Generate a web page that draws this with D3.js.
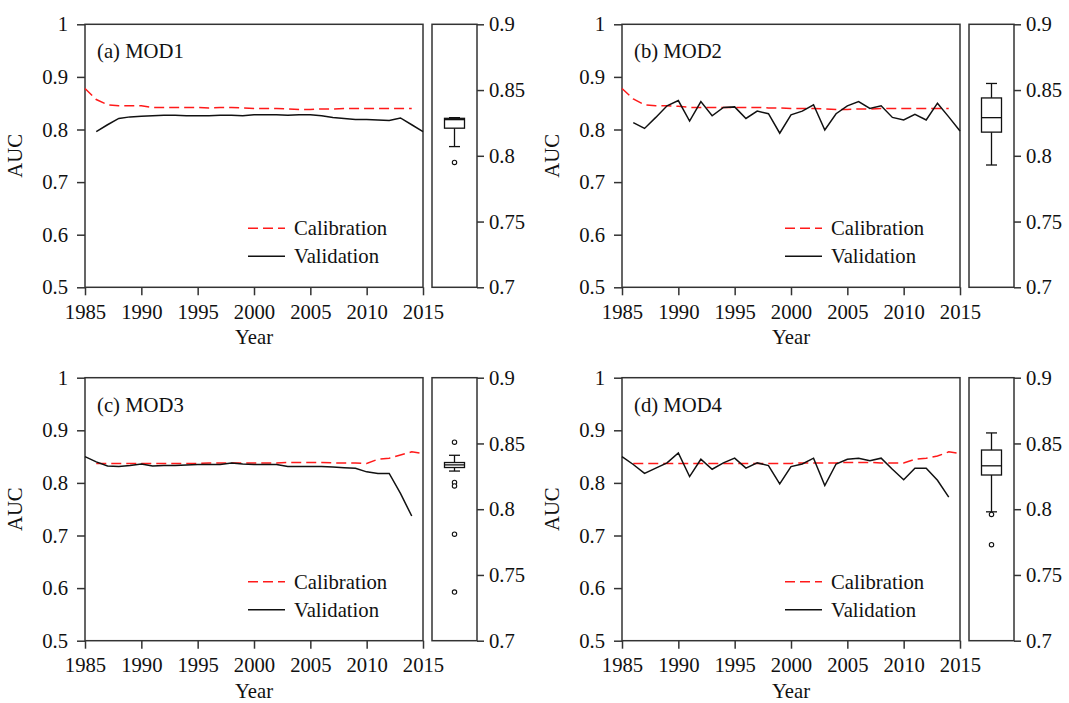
<!DOCTYPE html>
<html>
<head>
<meta charset="UTF-8">
<title>AUC of calibration and validation, MOD1-MOD4</title>
<style>
  body { margin: 0; background: #fff; }
  svg text { font-family: "Liberation Serif", "Times New Roman", serif; font-size: 20.7px; fill: #111; }
</style>
</head>
<body>
<svg width="1069" height="703"></svg>
<script src="https://d3js.org/d3.v7.min.js"></script>
<script>

// years on the x axis (one value per year, null = no point)
var years = [1985,1986,1987,1988,1989,1990,1991,1992,1993,1994,1995,1996,1997,1998,1999,2000,
             2001,2002,2003,2004,2005,2006,2007,2008,2009,2010,2011,2012,2013,2014,2015];
var yearTicks = [1985,1990,1995,2000,2005,2010,2015];
var aucTicks = [0.5,0.6,0.7,0.8,0.9,1];
var boxTicks = [0.7,0.75,0.8,0.85,0.9];

// (a) MOD1
var calA = [0.878,0.857,0.847,0.845,0.845,0.845,0.842,0.842,0.842,0.842,0.842,0.841,0.842,0.842,0.841,0.840,
            0.840,0.840,0.839,0.838,0.838,0.839,0.839,0.840,0.840,0.840,0.840,0.840,0.840,0.840,null];
var valA = [null,0.796,0.809,0.821,0.824,0.825,0.826,0.827,0.827,0.826,0.826,0.826,0.827,0.827,0.826,0.828,
            0.828,0.828,0.827,0.828,0.828,0.826,0.823,0.821,0.819,0.819,0.818,0.817,0.822,0.809,0.796];
// (b) MOD2
var calB = [0.878,0.858,0.847,0.845,0.845,0.844,0.842,0.842,0.842,0.842,0.842,0.842,0.842,0.841,0.841,0.840,
            0.840,0.840,0.839,0.838,0.838,0.839,0.839,0.840,0.840,0.840,0.840,0.840,0.840,0.840,null];
var valB = [null,0.813,0.802,0.823,0.845,0.855,0.816,0.853,0.826,0.842,0.843,0.821,0.835,0.830,0.793,0.828,
            0.835,0.847,0.799,0.830,0.845,0.853,0.840,0.845,0.823,0.818,0.829,0.818,0.850,0.824,0.797];
// (c) MOD3
var calC = [null,0.837,0.837,0.837,0.837,0.837,0.837,0.837,0.837,0.837,0.837,0.838,0.838,0.838,0.838,0.838,
            0.838,0.838,0.839,0.839,0.839,0.839,0.838,0.838,0.838,0.837,0.845,0.847,0.853,0.859,0.856];
var valC = [0.850,0.840,0.832,0.831,0.833,0.836,0.832,0.833,0.833,0.834,0.835,0.835,0.835,0.838,0.836,0.835,
            0.835,0.835,0.831,0.831,0.831,0.831,0.830,0.829,0.828,0.821,0.818,0.818,0.780,0.737,null];
// (d) MOD4
var calD = [null,0.837,0.837,0.837,0.837,0.837,0.837,0.837,0.837,0.837,0.837,0.837,0.837,0.837,0.837,0.837,
            0.838,0.838,0.838,0.838,0.839,0.839,0.839,0.838,0.838,0.838,0.845,0.847,0.851,0.859,0.856];
var valD = [0.850,0.835,0.818,0.828,0.838,0.857,0.812,0.845,0.826,0.838,0.847,0.828,0.838,0.833,0.798,0.831,
            0.836,0.847,0.795,0.836,0.845,0.847,0.842,0.847,0.826,0.806,0.828,0.828,0.805,0.773,null];

// box plots of validation AUC: [lower whisker, q1, median, q3, upper whisker]
var boxA = [0.807,0.821,0.8275,0.8285,0.829];
var outA = [0.795];
var boxB = [0.793,0.818,0.829,0.844,0.855];
var outB = [];
var boxC = [0.829,0.8317,0.8337,0.8355,0.841];
var outC = [0.851,0.8203,0.8177,0.781,0.737];
var boxD = [0.798,0.826,0.833,0.845,0.858];
var outD = [0.796,0.773];

var config = {
  "colX": [85, 622],
  "rowY": [24.3, 377.7],
  "plotW": 338,
  "plotH": 263,
  "boxGap": 9,
  "boxW": 45,
  "axisColor": "#333"
};

var panels = [
  {"title": "(a) MOD1", "cal": calA, "val": valA, "box": boxA, "out": outA, "col": 0, "row": 0},
  {"title": "(b) MOD2", "cal": calB, "val": valB, "box": boxB, "out": outB, "col": 1, "row": 0},
  {"title": "(c) MOD3", "cal": calC, "val": valC, "box": boxC, "out": outC, "col": 0, "row": 1},
  {"title": "(d) MOD4", "cal": calD, "val": valD, "box": boxD, "out": outD, "col": 1, "row": 1}
];

var svg = d3.select("svg");

function styleAxis(sel) {
  sel.attr("font-size", null).attr("font-family", null);
  sel.select(".domain").remove();
  sel.selectAll(".tick line").attr("stroke", config.axisColor).attr("stroke-width", 1.5);
  sel.selectAll(".tick text").attr("fill", "#111");
}

function drawPanel(p) {
  var W = config.plotW, H = config.plotH;
  var g = svg.append("g")
    .attr("transform", "translate(" + config.colX[p.col] + "," + config.rowY[p.row] + ")");

  var x = d3.scaleLinear().domain([1985, 2015]).range([0, W]);
  var y = d3.scaleLinear().domain([0.5, 1]).range([H, 0]);

  g.append("g")
    .call(d3.axisLeft(y).tickValues(aucTicks).tickSize(8).tickPadding(9).tickFormat(function(d){ return d; }))
    .call(styleAxis);
  g.append("g")
    .attr("transform", "translate(0," + H + ")")
    .call(d3.axisBottom(x).tickValues(yearTicks).tickSize(8).tickPadding(9).tickFormat(function(d){ return d; }))
    .call(styleAxis);

  g.append("rect")
    .attr("width", W).attr("height", H)
    .attr("fill", "none").attr("stroke", config.axisColor).attr("stroke-width", 1.5);

  var line = d3.line()
    .defined(function(d){ return d[1] != null; })
    .x(function(d){ return x(d[0]); })
    .y(function(d){ return y(d[1]); });

  g.append("path")
    .datum(years.map(function(yr, i){ return [yr, p.cal[i]]; }))
    .attr("d", line)
    .attr("fill", "none").attr("stroke", "#ff1a1a").attr("stroke-width", 1.5)
    .attr("stroke-dasharray", "10,5");
  g.append("path")
    .datum(years.map(function(yr, i){ return [yr, p.val[i]]; }))
    .attr("d", line)
    .attr("fill", "none").attr("stroke", "#111").attr("stroke-width", 1.5);

  // panel title
  g.append("text").attr("x", 12).attr("y", 34).text(p.title);

  // legend
  var leg = g.append("g").attr("transform", "translate(163,204)");
  leg.append("line").attr("x1", 0).attr("x2", 37).attr("y1", 0).attr("y2", 0)
    .attr("stroke", "#ff1a1a").attr("stroke-width", 1.5).attr("stroke-dasharray", "10,5");
  leg.append("text").attr("x", 46).attr("y", 7).text("Calibration");
  leg.append("line").attr("x1", 0).attr("x2", 37).attr("y1", 28).attr("y2", 28)
    .attr("stroke", "#111").attr("stroke-width", 1.5);
  leg.append("text").attr("x", 46).attr("y", 35).text("Validation");

  // axis titles
  g.append("text")
    .attr("transform", "translate(-63," + (H / 2) + ") rotate(-90)")
    .attr("text-anchor", "middle").text("AUC");
  g.append("text")
    .attr("x", W / 2).attr("y", H + 57)
    .attr("text-anchor", "middle").text("Year");

  // box plot panel
  var bx = W + config.boxGap, bw = config.boxW;
  var b = g.append("g").attr("transform", "translate(" + bx + ",0)");
  var yb = d3.scaleLinear().domain([0.7, 0.9]).range([H, 0]);

  b.append("g")
    .attr("transform", "translate(" + bw + ",0)")
    .call(d3.axisRight(yb).tickValues(boxTicks).tickSize(7).tickPadding(5).tickFormat(function(d){ return d; }))
    .call(styleAxis);
  b.append("rect")
    .attr("width", bw).attr("height", H)
    .attr("fill", "none").attr("stroke", config.axisColor).attr("stroke-width", 1.5);

  var cx = bw / 2, halfBox = 10, halfCap = 5.5, s = p.box;
  var bs = {"stroke": "#111", "stroke-width": 1.3};
  function bline(x1, y1, x2, y2) {
    b.append("line").attr("x1", x1).attr("y1", y1).attr("x2", x2).attr("y2", y2)
      .attr("stroke", bs.stroke).attr("stroke-width", bs["stroke-width"]);
  }
  bline(cx, yb(s[3]), cx, yb(s[4]));
  bline(cx, yb(s[1]), cx, yb(s[0]));
  bline(cx - halfCap, yb(s[4]), cx + halfCap, yb(s[4]));
  bline(cx - halfCap, yb(s[0]), cx + halfCap, yb(s[0]));
  b.append("rect")
    .attr("x", cx - halfBox).attr("width", halfBox * 2)
    .attr("y", yb(s[3])).attr("height", yb(s[1]) - yb(s[3]))
    .attr("fill", "#fff").attr("stroke", bs.stroke).attr("stroke-width", bs["stroke-width"]);
  bline(cx - halfBox, yb(s[2]), cx + halfBox, yb(s[2]));

  b.selectAll("circle.out")
    .data(p.out)
    .enter().append("circle")
      .attr("class", "out")
      .attr("cx", cx).attr("cy", function(d){ return yb(d); })
      .attr("r", 2.2)
      .attr("fill", "#fff").attr("stroke", "#111").attr("stroke-width", 1.1);
}

panels.forEach(drawPanel);

</script>
</body>
</html>
